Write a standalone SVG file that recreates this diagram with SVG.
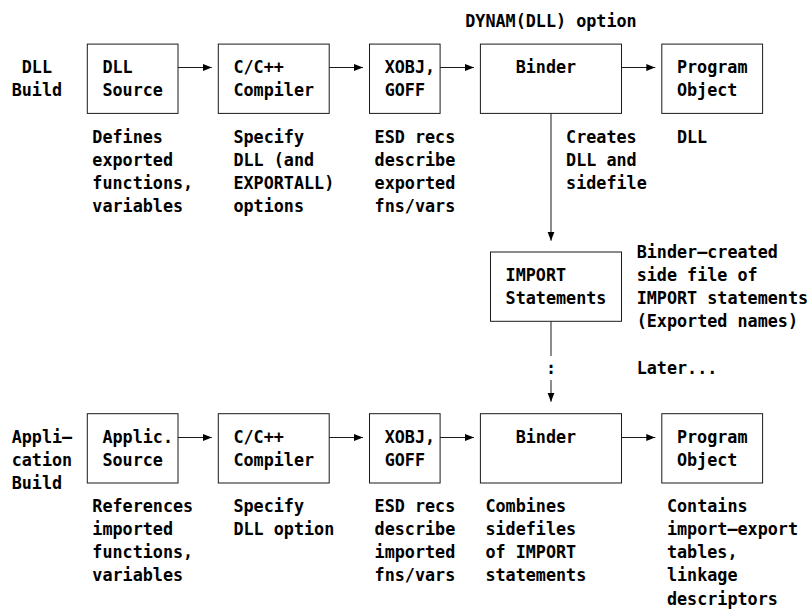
<svg xmlns="http://www.w3.org/2000/svg" width="807" height="609" viewBox="0 0 807 609">
<defs>
<style>
text{font-family:"DejaVu Sans Mono","Liberation Mono",monospace;font-weight:bold;font-size:16.75px;fill:#000}
.box{fill:none;stroke:#1a1a1a;stroke-width:1}
.con{fill:none;stroke:#1a1a1a;stroke-width:1}
</style>
<marker id="ah" markerUnits="userSpaceOnUse" markerWidth="9" markerHeight="8" refX="9" refY="4" orient="auto" viewBox="0 0 9 8">
<path d="M0,0.5 L9,4 L0,7.5 z" fill="#000"/>
</marker>
</defs>
<rect width="807" height="609" fill="#fff"/>

<g id="title-dynam"><text x="465.28" y="27">DYNAM(DLL) option</text></g>

<g id="label-dll-build"><text><tspan x="21.76" y="73.2">DLL</tspan><tspan x="11.68" y="96.3">Build</tspan></text></g>
<g id="label-app-build"><text><tspan x="11.68" y="442.8">Appli—</tspan><tspan x="11.68" y="465.9">cation</tspan><tspan x="11.68" y="489">Build</tspan></text></g>

<!-- DLL build row -->
<g id="dll-source">
<rect class="box" x="87.3" y="44.1" width="90.7" height="69.3"/>
<text><tspan x="102.4" y="73.2">DLL</tspan><tspan x="102.4" y="96.3">Source</tspan></text>
</g>
<g id="dll-compiler">
<rect class="box" x="218.3" y="44.1" width="110.9" height="69.3"/>
<text><tspan x="233.44" y="73.2">C/C++</tspan><tspan x="233.44" y="96.3">Compiler</tspan></text>
</g>
<g id="dll-xobj">
<rect class="box" x="369.5" y="44.1" width="70.6" height="69.3"/>
<text><tspan x="384.64" y="73.2">XOBJ,</tspan><tspan x="384.64" y="96.3">GOFF</tspan></text>
</g>
<g id="dll-binder">
<rect class="box" x="480.4" y="44.1" width="141.1" height="69.3"/>
<text x="515.68" y="73.2">Binder</text>
</g>
<g id="dll-program">
<rect class="box" x="661.8" y="44.1" width="100.8" height="69.3"/>
<text><tspan x="676.96" y="73.2">Program</tspan><tspan x="676.96" y="96.3">Object</tspan></text>
</g>

<g id="note-dll-source"><text><tspan x="92.32" y="142.5">Defines</tspan><tspan x="92.32" y="165.6">exported</tspan><tspan x="92.32" y="188.7">functions,</tspan><tspan x="92.32" y="211.8">variables</tspan></text></g>
<g id="note-dll-compiler"><text><tspan x="233.44" y="142.5">Specify</tspan><tspan x="233.44" y="165.6">DLL (and</tspan><tspan x="233.44" y="188.7">EXPORTALL)</tspan><tspan x="233.44" y="211.8">options</tspan></text></g>
<g id="note-dll-xobj"><text><tspan x="374.56" y="142.5">ESD recs</tspan><tspan x="374.56" y="165.6">describe</tspan><tspan x="374.56" y="188.7">exported</tspan><tspan x="374.56" y="211.8">fns/vars</tspan></text></g>
<g id="note-dll-binder"><text><tspan x="566.08" y="142.5">Creates</tspan><tspan x="566.08" y="165.6">DLL and</tspan><tspan x="566.08" y="188.7">sidefile</tspan></text></g>
<g id="note-dll-program"><text x="676.96" y="142.5">DLL</text></g>

<!-- IMPORT statements -->
<g id="import-statements">
<rect class="box" x="490.5" y="252" width="131" height="69.3"/>
<text><tspan x="505.6" y="281.1">IMPORT</tspan><tspan x="505.6" y="304.2">Statements</tspan></text>
</g>
<g id="note-import"><text><tspan x="636.64" y="258">Binder—created</tspan><tspan x="636.64" y="281.1">side file of</tspan><tspan x="636.64" y="304.2">IMPORT statements</tspan><tspan x="636.64" y="327.3">(Exported names)</tspan></text></g>
<g id="note-later"><text x="636.64" y="373.5">Later...</text></g>

<!-- Application build row -->
<g id="app-source">
<rect class="box" x="87.3" y="413.7" width="90.7" height="69.3"/>
<text><tspan x="102.4" y="442.8">Applic.</tspan><tspan x="102.4" y="465.9">Source</tspan></text>
</g>
<g id="app-compiler">
<rect class="box" x="218.3" y="413.7" width="110.9" height="69.3"/>
<text><tspan x="233.44" y="442.8">C/C++</tspan><tspan x="233.44" y="465.9">Compiler</tspan></text>
</g>
<g id="app-xobj">
<rect class="box" x="369.5" y="413.7" width="70.6" height="69.3"/>
<text><tspan x="384.64" y="442.8">XOBJ,</tspan><tspan x="384.64" y="465.9">GOFF</tspan></text>
</g>
<g id="app-binder">
<rect class="box" x="480.4" y="413.7" width="141.1" height="69.3"/>
<text x="515.68" y="442.8">Binder</text>
</g>
<g id="app-program">
<rect class="box" x="661.8" y="413.7" width="100.8" height="69.3"/>
<text><tspan x="676.96" y="442.8">Program</tspan><tspan x="676.96" y="465.9">Object</tspan></text>
</g>

<g id="note-app-source"><text><tspan x="92.32" y="512.1">References</tspan><tspan x="92.32" y="535.2">imported</tspan><tspan x="92.32" y="558.3">functions,</tspan><tspan x="92.32" y="581.4">variables</tspan></text></g>
<g id="note-app-compiler"><text><tspan x="233.44" y="512.1">Specify</tspan><tspan x="233.44" y="535.2">DLL option</tspan></text></g>
<g id="note-app-xobj"><text><tspan x="374.56" y="512.1">ESD recs</tspan><tspan x="374.56" y="535.2">describe</tspan><tspan x="374.56" y="558.3">imported</tspan><tspan x="374.56" y="581.4">fns/vars</tspan></text></g>
<g id="note-app-binder"><text><tspan x="485.44" y="512.1">Combines</tspan><tspan x="485.44" y="535.2">sidefiles</tspan><tspan x="485.44" y="558.3">of IMPORT</tspan><tspan x="485.44" y="581.4">statements</tspan></text></g>
<g id="note-app-program"><text><tspan x="666.88" y="512.1">Contains</tspan><tspan x="666.88" y="535.2">import—export</tspan><tspan x="666.88" y="558.3">tables,</tspan><tspan x="666.88" y="581.4">linkage</tspan><tspan x="666.88" y="604.5">descriptors</tspan></text></g>

<g id="connectors">
<line class="con" x1="178" y1="67.5" x2="211.8" y2="67.5" marker-end="url(#ah)"/>
<line class="con" x1="329.2" y1="67.5" x2="363" y2="67.5" marker-end="url(#ah)"/>
<line class="con" x1="440.1" y1="67.5" x2="474" y2="67.5" marker-end="url(#ah)"/>
<line class="con" x1="621.5" y1="67.5" x2="655.3" y2="67.5" marker-end="url(#ah)"/>
<line class="con" x1="551" y1="113.4" x2="551" y2="240.7" marker-end="url(#ah)"/>
<line class="con" x1="551" y1="321.3" x2="551" y2="356"/>
<text x="545.92" y="373.5">:</text>
<line class="con" x1="551" y1="380" x2="551" y2="401.7" marker-end="url(#ah)"/>
<line class="con" x1="178" y1="437.5" x2="211.8" y2="437.5" marker-end="url(#ah)"/>
<line class="con" x1="329.2" y1="437.5" x2="363" y2="437.5" marker-end="url(#ah)"/>
<line class="con" x1="440.1" y1="437.5" x2="474" y2="437.5" marker-end="url(#ah)"/>
<line class="con" x1="621.5" y1="437.5" x2="655.3" y2="437.5" marker-end="url(#ah)"/>
</g>
</svg>
